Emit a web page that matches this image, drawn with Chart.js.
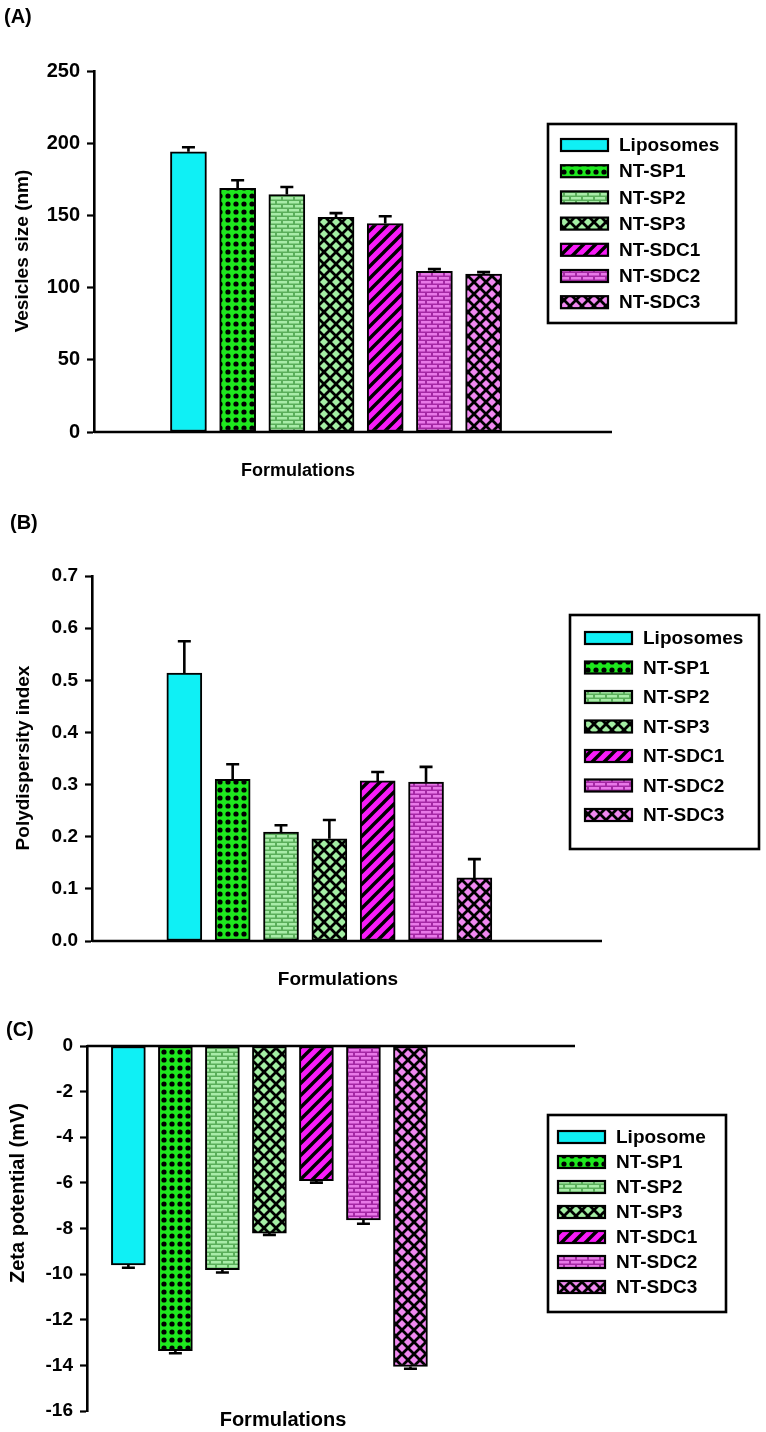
<!DOCTYPE html>
<html>
<head>
<meta charset="utf-8">
<script src="https://cdn.jsdelivr.net/npm/chart.js@4.4.0/dist/chart.umd.min.js"></script>
<style>
  body { margin: 0; background: #fff; width: 766px; height: 1432px; position: relative; overflow: hidden; }
  .panel { position: absolute; left: 0; width: 766px; }
</style>
</head>
<body>
<div class="panel" style="top:0;height:490px"><canvas id="chartA"></canvas></div>
<div class="panel" style="top:490px;height:510px"><canvas id="chartB"></canvas></div>
<div class="panel" style="top:1000px;height:432px"><canvas id="chartC"></canvas></div>
<script>
// data
const formulations = ['Liposomes', 'NT-SP1', 'NT-SP2', 'NT-SP3', 'NT-SDC1', 'NT-SDC2', 'NT-SDC3'];
const formulationsC = ['Liposome', 'NT-SP1', 'NT-SP2', 'NT-SP3', 'NT-SDC1', 'NT-SDC2', 'NT-SDC3'];

const sizeMean = [194, 168.8, 164.5, 148.6, 144.4, 111.2, 109.3];
const sizeSd = [3.2, 5.5, 5.2, 3, 5, 1.6, 1.4];
const sizeTicks = [0, 50, 100, 150, 200, 250];
const sizeTickText = ['0', '50', '100', '150', '200', '250'];

const pdiMean = [0.514, 0.31, 0.209, 0.196, 0.307, 0.305, 0.121];
const pdiSd = [0.061, 0.029, 0.013, 0.036, 0.017, 0.029, 0.036];
const pdiTicks = [0, 0.1, 0.2, 0.3, 0.4, 0.5, 0.6, 0.7];
const pdiTickText = ['0.0', '0.1', '0.2', '0.3', '0.4', '0.5', '0.6', '0.7'];

const zetaMean = [-9.6, -13.35, -9.8, -8.2, -5.9, -7.62, -14.05];
const zetaSd = [0.12, 0.12, 0.13, 0.08, 0.09, 0.17, 0.1];
const zetaTicks = [-16, -14, -12, -10, -8, -6, -4, -2, 0];
const zetaTickText = ['-16', '-14', '-12', '-10', '-8', '-6', '-4', '-2', '0'];

const FONT = '"Liberation Sans", Arial, Helvetica, sans-serif';
Chart.defaults.font.family = FONT;
Chart.defaults.color = '#000';

// fill patterns
function tile(w, h, draw) {
  const c = document.createElement('canvas');
  c.width = w; c.height = h;
  const g = c.getContext('2d');
  draw(g, w, h);
  return g.createPattern(c, 'repeat');
}
function dots(bg) {
  return tile(8, 8, g => {
    g.fillStyle = bg; g.fillRect(0, 0, 8, 8);
    g.fillStyle = '#000';
    g.beginPath(); g.arc(4, 4, 2.6, 0, Math.PI * 2); g.fill();
  });
}
function brick(mortar, stone) {
  return tile(12, 8, g => {
    g.fillStyle = mortar; g.fillRect(0, 0, 12, 8);
    g.fillStyle = stone;
    g.fillRect(1, 1, 10, 2.5);
    g.fillRect(7, 5, 10, 2.5);
    g.fillRect(-5, 5, 10, 2.5);
  });
}
function cross(bg) {
  return tile(12, 12, g => {
    g.fillStyle = bg; g.fillRect(0, 0, 12, 12);
    g.strokeStyle = '#000'; g.lineWidth = 2.8;
    g.beginPath();
    g.moveTo(-2, -2); g.lineTo(14, 14);
    g.moveTo(14, -2); g.lineTo(-2, 14);
    g.stroke();
  });
}
function stripes(bg) {
  return tile(12, 12, g => {
    g.fillStyle = bg; g.fillRect(0, 0, 12, 12);
    g.strokeStyle = '#000'; g.lineWidth = 3.4;
    g.beginPath();
    g.moveTo(-2, 14); g.lineTo(14, -2);
    g.moveTo(-8, 8); g.lineTo(8, -8);
    g.moveTo(4, 20); g.lineTo(20, 4);
    g.stroke();
  });
}
const fills = [
  '#0ff0f5',
  dots('#1ee81e'),
  brick('#5aae5a', '#a8eca8'),
  cross('#a4eea4'),
  stripes('#f81cf8'),
  brick('#a428a4', '#e878e8'),
  cross('#f088f0')
];

function panelPlugin(p) {
  return {
    id: 'panel' + p.letter,
    afterDatasetsDraw(chart) {
      const ctx = chart.ctx, ys = chart.scales.y, area = chart.chartArea;
      const meta = chart.getDatasetMeta(0);
      ctx.save();
      ctx.strokeStyle = '#000';
      // error bars
      ctx.lineWidth = 2.6;
      meta.data.forEach((bar, i) => {
        const v = p.means[i];
        const end = ys.getPixelForValue(v + Math.sign(v) * p.errs[i]);
        ctx.beginPath();
        ctx.moveTo(bar.x, bar.y); ctx.lineTo(bar.x, end);
        ctx.moveTo(bar.x - 6.5, end); ctx.lineTo(bar.x + 6.5, end);
        ctx.stroke();
      });
      // baseline at zero
      const y0 = ys.getPixelForValue(0);
      ctx.lineWidth = 2.6;
      ctx.beginPath();
      ctx.moveTo(area.left, y0); ctx.lineTo(area.right, y0);
      ctx.stroke();
      ctx.restore();
    },
    afterDraw(chart) {
      const ctx = chart.ctx;
      ctx.save();
      ctx.fillStyle = '#000';
      ctx.textBaseline = 'middle';
      // panel letter
      ctx.font = 'bold 20px ' + FONT;
      ctx.textAlign = 'left';
      ctx.fillText('(' + p.letter + ')', p.tag[0], p.tag[1]);
      // x title
      ctx.font = 'bold ' + p.xTitle[2] + 'px ' + FONT;
      ctx.textAlign = 'center';
      ctx.fillText('Formulations', p.xTitle[0], p.xTitle[1]);
      // y title
      ctx.save();
      ctx.translate(p.yTitle[0], p.yTitle[1]);
      ctx.rotate(-Math.PI / 2);
      ctx.font = 'bold ' + p.yTitle[2] + 'px ' + FONT;
      ctx.fillText(p.yLabel, 0, 0);
      ctx.restore();
      // legend
      const L = p.legend;
      ctx.lineWidth = 2.6;
      ctx.strokeStyle = '#000';
      ctx.strokeRect(L.x, L.y, L.w, L.h);
      ctx.font = 'bold 19px ' + FONT;
      ctx.textAlign = 'left';
      p.labels.forEach((lab, i) => {
        const ry = L.row0 + i * L.step;
        ctx.fillStyle = fills[i];
        ctx.fillRect(L.sx, ry - 6, 47, 12);
        ctx.lineWidth = 2.2;
        ctx.strokeRect(L.sx, ry - 6, 47, 12);
        ctx.fillStyle = '#000';
        ctx.fillText(lab, L.tx, ry + 1);
      });
      ctx.restore();
    }
  };
}

function makePanel(id, p) {
  new Chart(document.getElementById(id), {
    type: 'bar',
    data: {
      labels: p.labels,
      datasets: [{
        data: p.means.map((v, i) => ({ x: i + 1, y: v })),
        backgroundColor: fills,
        borderColor: '#000',
        borderWidth: 2,
        borderSkipped: false,
        barThickness: p.barW
      }]
    },
    options: {
      responsive: true,
      maintainAspectRatio: false,
      animation: false,
      layout: { padding: { left: 0, top: p.area[0], right: 766 - p.area[1], bottom: p.area[2] } },
      plugins: { legend: { display: false }, tooltip: { enabled: false } },
      scales: {
        x: { type: 'linear', display: false, offset: false, min: p.xRange[0], max: p.xRange[1] },
        y: {
          type: 'linear',
          position: 'left',
          min: p.ticks[0],
          max: p.ticks[p.ticks.length - 1],
          afterFit(s) { s.width = p.axisX; },
          afterBuildTicks(s) { s.ticks = p.ticks.map(v => ({ value: v })); },
          border: { display: true, color: '#000', width: 2.6 },
          grid: { display: true, drawOnChartArea: false, drawTicks: true, tickLength: 7, tickWidth: 2.2, tickColor: '#000' },
          ticks: {
            color: '#000',
            padding: 7,
            font: { size: p.tickSize, weight: 'bold' },
            callback: (v, i) => p.tickText[i]
          }
        }
      }
    },
    plugins: [panelPlugin(p)]
  });
}

makePanel('chartA', {
  letter: 'A', labels: formulations, means: sizeMean, errs: sizeSd,
  ticks: sizeTicks, tickText: sizeTickText, tickSize: 20,
  axisX: 94, area: [71, 612, 490 - 432], xRange: [-0.92, 9.61], barW: 36,
  yLabel: 'Vesicles size (nm)', yTitle: [23, 251, 19], xTitle: [298, 471, 18], tag: [4, 17],
  legend: { x: 548, y: 124, w: 188, h: 199, row0: 145, step: 26.2, sx: 561, tx: 619 }
});

makePanel('chartB', {
  letter: 'B', labels: formulations, means: pdiMean, errs: pdiSd,
  ticks: pdiTicks, tickText: pdiTickText, tickSize: 19,
  axisX: 92, area: [86, 602, 510 - 451], xRange: [-0.91, 9.64], barW: 35,
  yLabel: 'Polydispersity index', yTitle: [24, 268, 19], xTitle: [338, 490, 19], tag: [10, 33],
  legend: { x: 570, y: 125, w: 189, h: 234, row0: 148, step: 29.5, sx: 585, tx: 643 }
});

makePanel('chartC', {
  letter: 'C', labels: formulationsC, means: zetaMean, errs: zetaSd,
  ticks: zetaTicks, tickText: zetaTickText, tickSize: 19,
  axisX: 87, area: [46, 575, 432 - 411], xRange: [0.12, 10.5], barW: 34,
  yLabel: 'Zeta potential (mV)', yTitle: [18, 193, 20], xTitle: [283, 420, 20], tag: [6, 30],
  legend: { x: 548, y: 115, w: 178, h: 197, row0: 137, step: 25, sx: 558, tx: 616 }
});
</script>
</body>
</html>
